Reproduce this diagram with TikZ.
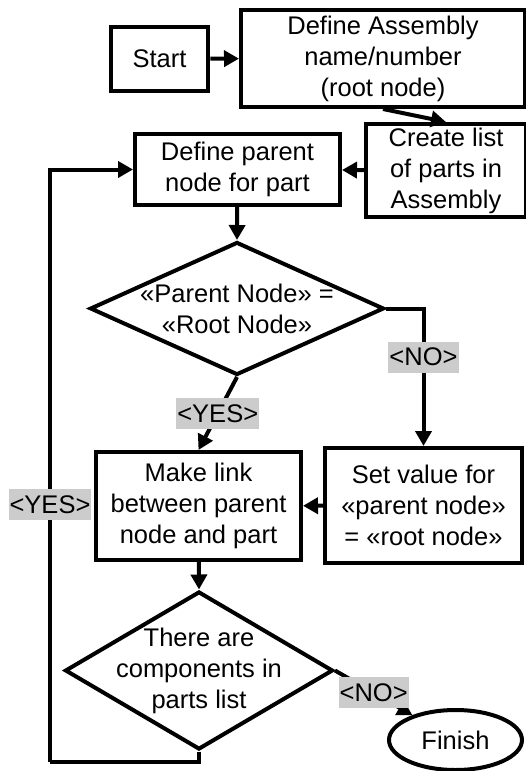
\documentclass[tikz,border=0pt]{standalone}
\usepackage{fontspec}
\setmainfont{Liberation Sans}
\usetikzlibrary{arrows.meta,shapes.geometric,calc}
\begin{document}
\begin{tikzpicture}[x=1pt,y=-1pt,
  font=\fontsize{25.5}{31}\selectfont,
  line width=4pt,
  arr/.style={-{Triangle[length=15pt,width=16pt]}},
  box/.style={draw,rectangle,align=center,inner sep=0pt},
  decision/.style={draw,diamond,inner sep=0pt},
  term/.style={draw,ellipse,inner sep=0pt},
  tag/.style={fill=black!20,inner xsep=1pt,inner ysep=0pt,minimum height=31pt,line width=0pt}]
\useasboundingbox (0,0) rectangle (526,771);

% process boxes
\node[box,minimum width=97.6pt,minimum height=64pt] (start) at (159.5,58.7) {Start};
\node[box,minimum width=284pt,minimum height=97pt] (assembly) at (383,58.5)
  {Define Assembly\\name/number\\(root node)};
\node[box,minimum width=160pt,minimum height=93pt] (list) at (446,170.5)
  {Create list\\of parts in\\Assembly};
\node[box,minimum width=205pt,minimum height=71pt] (parent) at (237.5,169.5)
  {Define parent\\node for part};
\node[box,minimum width=205pt,minimum height=108pt] (link) at (198.5,506)
  {Make link\\between parent\\node and part};
\node[box,minimum width=197pt,minimum height=115pt] (setval) at (423.5,505.5)
  {Set value for\\«parent node»\\= «root node»};

% decisions
\node[decision,minimum width=294pt,minimum height=133pt] (rootq) at (237,308.5) {};
\node[align=center] at (rootq.center) {«Parent Node» =\\«Root Node»};
\node[decision,minimum width=268pt,minimum height=158pt] (moreq) at (199,670.5) {};
\node[align=center] at (moreq.center) {There are\\components in\\parts list};

% end
\node[term,minimum width=133pt,minimum height=60pt] (finish) at (455.5,740) {Finish};

% flow
\draw[arr] (start) -- (assembly);
\draw[arr] (assembly.south) -- (list.north);
\draw[arr] (list) -- (parent);
\draw[arr] (parent) -- (rootq.north);
\draw[arr] (rootq.east) -| node[tag,pos=0.677] {<NO>} (setval.north);
\draw[arr] (rootq.south) -- node[tag] {<YES>} (link.north);
\draw[arr] (setval) -- (link);
\draw[arr] (link) -- (moreq.north);
\coordinate (loop) at (50,762);
\draw (moreq.south) |- (loop);
\draw[arr] (loop) |- node[tag,pos=0.217] {<YES>} (parent.west);
\draw[arr] (moreq.east) -- node[tag] {<NO>} (finish.150);
\end{tikzpicture}
\end{document}
